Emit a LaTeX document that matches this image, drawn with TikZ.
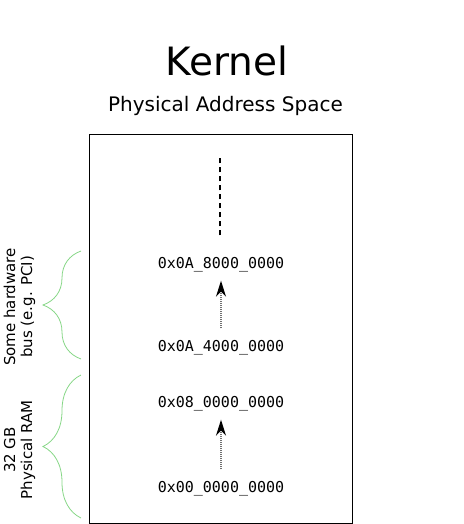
\documentclass[tikz,border=0pt]{standalone}
\usepackage{fontspec}
\setmainfont{DejaVu Sans}
\setmonofont{DejaVu Sans Mono}
\usetikzlibrary{arrows.meta,positioning,decorations.pathreplacing}
\definecolor{ink}{HTML}{000000}
\definecolor{brace}{HTML}{86D686}
\definecolor{dots}{HTML}{707070}
\tikzset{
  addr/.style={font=\ttfamily\fontsize{15}{17}\selectfont,inner sep=0pt,
    text height=11pt,text depth=0pt},
  sidelbl/.style={font=\fontsize{15}{17}\selectfont,rotate=90,align=center,
    inner sep=0pt},
  uparrow/.style={draw=dots,line width=1.4pt,dash pattern=on 1pt off 1pt,
    shorten <=12pt,shorten >=12pt,
    -{Stealth[length=16pt,width=10pt,inset=5pt,color=ink,fill=ink]}},
  moreline/.style={draw=ink,line width=1.3pt,dash pattern=on 5pt off 4pt},
  region/.style={draw=brace,line width=.8pt,
    decorate,decoration={brace,amplitude=38pt,aspect=.5}}
}
\begin{document}
\begin{tikzpicture}[x=1pt,y=-1pt]
\useasboundingbox (0,0) rectangle (463,524);
\node[font=\fontsize{39}{47}\selectfont,anchor=base,inner sep=0pt]
  (title) at (227,76) {Kernel};
\node[font=\fontsize{20}{24}\selectfont,anchor=base,inner sep=0pt]
  (subtitle) at (225.5,112) {Physical Address Space};
\draw[ink,line width=1pt] (89,134) rectangle (352,523);

% addresses, bottom up
\node[addr] (ram0) at (221,487) {0x00\_0000\_0000};
\node[addr] (ram1) at (221,402) {0x08\_0000\_0000};
\node[addr] (bus0) at (221,346) {0x0A\_4000\_0000};
\node[addr] (bus1) at (221,263) {0x0A\_8000\_0000};
\coordinate (top) at (220,158);
\draw[uparrow] (ram0.north) -- (ram1.south);
\draw[uparrow] (bus0.north) -- (bus1.south);
\draw[moreline] ([xshift=-1pt,yshift=22pt]bus1.north) -- (top);

% braces
\coordinate (busT) at (81,251);
\coordinate (busB) at (81,359);
\coordinate (ramT) at (81,375);
\coordinate (ramB) at (81,518);
\draw[region] (busB) -- (busT);
\draw[region] (ramB) -- (ramT);
\node[sidelbl] (buslbl) at (19.5,307) {Some hardware\\bus (e.g. PCI)};
\node[sidelbl] (ramlbl) at (19.5,450) {32 GB\\Physical RAM};
\end{tikzpicture}
\end{document}
